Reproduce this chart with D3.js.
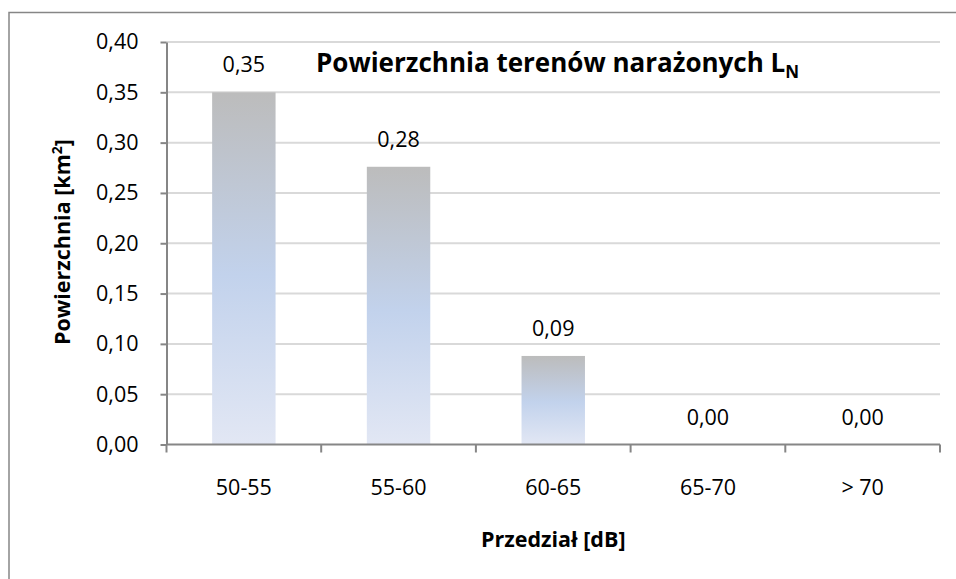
<!DOCTYPE html>
<html>
<head>
<meta charset="utf-8">
<script src="https://cdn.jsdelivr.net/npm/d3@7"></script>
<style>
  body { margin: 0; background: #fff; }
  svg text { font-family: "Open Sans", Lato, sans-serif; fill: #000; }
  .axis path, .axis line { stroke: #868686; stroke-width: 2; }
  .axis text { font-size: 21.5px; font-family: "Open Sans", Lato, sans-serif; }
  .grid line { stroke: #d9d9d9; stroke-width: 2; }
</style>
</head>
<body>
<div id="chart"></div>
<script>
var categories = ["50-55", "55-60", "60-65", "65-70", "> 70"];
var values = [0.35, 0.276, 0.088, 0, 0];
var yTicks = [0, 0.05, 0.10, 0.15, 0.20, 0.25, 0.30, 0.35, 0.40];

var W = 956, H = 579;
var margin = {top: 42, right: 16, left: 166.5, bottom: 134.5},
    width = W - margin.left - margin.right,
    height = H - margin.top - margin.bottom;

var comma = function(v) { return d3.format(".2f")(v).replace(".", ","); };

var x = d3.scaleBand()
    .domain(categories)
    .range([0, width])
    .paddingInner(0.59)
    .paddingOuter(0.295);

var xTickScale = d3.scaleBand().domain(categories).range([0, width]);

var y = d3.scaleLinear()
    .domain([0, 0.40])
    .range([height, 0]);

var svg = d3.select("div#chart").append("svg")
    .attr("width", W)
    .attr("height", H);

// outer chart frame
svg.append("rect")
    .attr("x", 9).attr("y", 12.5)
    .attr("width", 960).attr("height", 600)
    .attr("fill", "#fff")
    .attr("stroke", "#868686")
    .attr("stroke-width", 1.5);

var defs = svg.append("defs");
var grad = defs.append("linearGradient")
    .attr("id", "barGrad")
    .attr("x1", 0).attr("y1", 0).attr("x2", 0).attr("y2", 1);
grad.append("stop").attr("offset", "0%").attr("stop-color", "#bcbcbc");
grad.append("stop").attr("offset", "52%").attr("stop-color", "#c2d2ec");
grad.append("stop").attr("offset", "100%").attr("stop-color", "#e2e7f4");

var g = svg.append("g")
    .attr("transform", "translate(" + margin.left + "," + margin.top + ")");

// gridlines
g.append("g")
    .attr("class", "grid")
    .selectAll("line")
    .data(yTicks.slice(1))
    .enter().append("line")
    .attr("x1", 0).attr("x2", width)
    .attr("y1", function(d) { return y(d); })
    .attr("y2", function(d) { return y(d); });

// bars
g.selectAll("rect.bar")
    .data(values)
    .enter().append("rect")
    .attr("class", "bar")
    .attr("fill", "url(#barGrad)")
    .attr("x", function(d, i) { return x(categories[i]); })
    .attr("width", x.bandwidth())
    .attr("y", function(d) { return y(d); })
    .attr("height", function(d) { return height - y(d); });

// value labels
g.selectAll("text.val")
    .data(values)
    .enter().append("text")
    .attr("class", "val")
    .attr("text-anchor", "middle")
    .attr("font-size", 21.5)
    .attr("x", function(d, i) { return x(categories[i]) + x.bandwidth() / 2; })
    .attr("y", function(d) { return y(d) - 20; })
    .text(function(d) { return comma(d); });

// y axis
var yAxis = d3.axisLeft(y)
    .tickValues(yTicks)
    .tickFormat(comma)
    .tickSize(6)
    .tickPadding(22)
    .tickSizeOuter(0);

g.append("g")
    .attr("class", "y axis")
    .call(yAxis);

// x axis with ticks at band edges
var xAxisG = g.append("g")
    .attr("class", "x axis")
    .attr("transform", "translate(0," + height + ")");

xAxisG.append("line")
    .attr("x1", 0).attr("x2", width);

xAxisG.selectAll("line.tick")
    .data(d3.range(categories.length + 1))
    .enter().append("line")
    .attr("class", "tick")
    .attr("x1", function(i) { return i * xTickScale.bandwidth(); })
    .attr("x2", function(i) { return i * xTickScale.bandwidth(); })
    .attr("y1", 0).attr("y2", 8);

xAxisG.selectAll("text")
    .data(categories)
    .enter().append("text")
    .attr("text-anchor", "middle")
    .attr("x", function(d) { return xTickScale(d) + xTickScale.bandwidth() / 2; })
    .attr("y", 50.5)
    .text(function(d) { return d; });

// title
var title = svg.append("text")
    .attr("x", 316)
    .attr("y", 72)
    .attr("font-size", 26)
    .attr("font-weight", "bold");
title.append("tspan").text("Powierzchnia terenów narażonych L");
title.append("tspan")
    .attr("font-size", 17)
    .attr("dy", 6)
    .text("N");

// axis titles
svg.append("text")
    .attr("text-anchor", "middle")
    .attr("font-size", 21.5)
    .attr("font-weight", "bold")
    .attr("x", margin.left + width / 2)
    .attr("y", 547)
    .text("Przedział [dB]");

var yTitle = svg.append("text")
    .attr("text-anchor", "middle")
    .attr("font-size", 21.5)
    .attr("font-weight", "bold")
    .attr("transform", "translate(70," + 242 + ") rotate(-90)");
yTitle.append("tspan").text("Powierzchnia [km");
yTitle.append("tspan").attr("font-size", 14).attr("dy", -8).text("2");
yTitle.append("tspan").attr("dy", 8).text("]");
</script>
</body>
</html>
